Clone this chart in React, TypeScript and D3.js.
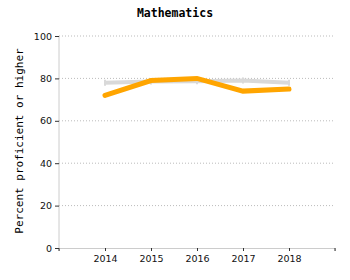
import React, { useEffect, useRef } from "react";
import * as d3 from "d3";

const years = [2014, 2015, 2016, 2017, 2018];
const schoolValues = [72, 79, 80, 74, 75];
const stateValues = [78, 78.5, 78.6, 79, 78];
const yTicks = [0, 20, 40, 60, 80, 100];

const App = () => {
  const chartRef = useRef<SVGSVGElement>(null);

  useEffect(() => {
    const root = d3.select(chartRef.current);
    root.selectAll("*").remove();

    const margin = { top: 36, right: 15, bottom: 32, left: 59 };
    const width = 350 - margin.left - margin.right;
    const height = 280 - margin.top - margin.bottom;

    const svg = root
      .append("g")
      .attr("transform", `translate(${margin.left},${margin.top})`);

    const x = d3.scaleLinear().domain([2013, 2019]).range([0, width]);
    const y = d3.scaleLinear().domain([0, 100]).range([height, 0]);

    // dotted gridlines
    svg
      .selectAll(".grid")
      .data(yTicks.filter((d) => d > 0))
      .enter()
      .append("line")
      .attr("x1", 0)
      .attr("x2", width)
      .attr("y1", (d) => y(d))
      .attr("y2", (d) => y(d))
      .attr("stroke", "#bbb")
      .attr("stroke-width", 1)
      .attr("stroke-dasharray", "1,2");

    // Y axis
    const yAxis = svg
      .append("g")
      .call(d3.axisLeft(y).tickValues(yTicks).tickSize(4).tickPadding(3));
    yAxis.select(".domain").attr("stroke", "#ccc").attr("d", `M0,${height}V0`);
    yAxis.selectAll(".tick line").attr("stroke", "#333");
    yAxis
      .selectAll("text")
      .attr("fill", "#111")
      .style("font-family", "'DejaVu Sans', Verdana, sans-serif")
      .style("font-size", "9.5px");

    // X axis
    const xAxis = svg
      .append("g")
      .attr("transform", `translate(0,${height})`)
      .call(
        d3
          .axisBottom(x)
          .tickValues(years)
          .tickFormat(d3.format("d"))
          .tickSize(3)
          .tickSizeOuter(3)
          .tickPadding(4)
      );
    xAxis.select(".domain").attr("stroke", "#ccc");
    xAxis.selectAll(".tick line").attr("stroke", "#333");
    xAxis
      .selectAll("text")
      .attr("fill", "#111")
      .style("font-family", "'DejaVu Sans', Verdana, sans-serif")
      .style("font-size", "9.5px");
    // end ticks
    [2013, 2019].forEach((v) => {
      xAxis
        .append("line")
        .attr("x1", x(v))
        .attr("x2", x(v))
        .attr("y1", 0)
        .attr("y2", 3)
        .attr("stroke", "#333");
    });

    const line = d3
      .line<number>()
      .x((_, i) => x(years[i]))
      .y((d) => y(d));

    // state comparison line
    svg
      .append("path")
      .datum(stateValues)
      .attr("d", line)
      .attr("fill", "none")
      .attr("stroke", "#d9d9d9")
      .attr("stroke-width", 4)
      .attr("stroke-linecap", "butt");

    svg
      .selectAll(".state-mark")
      .data(stateValues)
      .enter()
      .append("line")
      .attr("x1", (_, i) => x(years[i]))
      .attr("x2", (_, i) => x(years[i]))
      .attr("y1", (d) => y(d) - 3)
      .attr("y2", (d) => y(d) + 3)
      .attr("stroke", "#d9d9d9")
      .attr("stroke-width", 2);

    // school line
    svg
      .append("path")
      .datum(schoolValues)
      .attr("d", line)
      .attr("fill", "none")
      .attr("stroke", "#ffa500")
      .attr("stroke-width", 5)
      .attr("stroke-linecap", "round");

    // Title
    root
      .append("text")
      .attr("x", 175)
      .attr("y", 16.5)
      .attr("text-anchor", "middle")
      .style("font-family", "'DejaVu Sans Mono', monospace")
      .style("font-weight", "bold")
      .style("font-size", "11.5px")
      .attr("fill", "#000")
      .text("Mathematics");

    // Y label
    root
      .append("text")
      .attr("transform", `translate(23,141) rotate(-90)`)
      .attr("text-anchor", "middle")
      .style("font-family", "'DejaVu Sans Mono', monospace")
      .style("font-size", "11px")
      .attr("fill", "#000")
      .text("Percent proficient or higher");
  }, []);

  return (
    <svg
      ref={chartRef}
      width={350}
      height={280}
      style={{ position: "absolute", left: 0, top: 0, background: "#fff" }}
    />
  );
};

export default App;
